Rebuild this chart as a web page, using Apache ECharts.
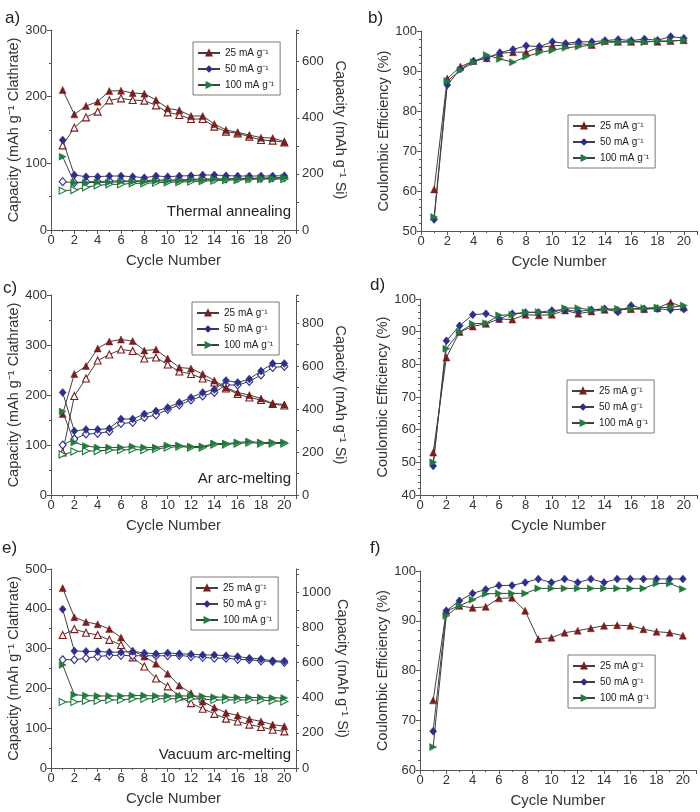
<!DOCTYPE html>
<html><head><meta charset="utf-8">
<script src="https://cdn.jsdelivr.net/npm/echarts@6/dist/echarts.min.js"></script>
<style>html,body{margin:0;padding:0;background:#fff}#c{width:700px;height:812px}</style>
</head><body><div id="c"></div><script>
const cycles = [1,2,3,4,5,6,7,8,9,10,11,12,13,14,15,16,17,18,19,20];
const legendNames = ['25 mA g⁻¹','50 mA g⁻¹','100 mA g⁻¹'];
const panelLabels = ['a)','b)','c)','d)','e)','f)'];
const methodLabels = ['Thermal annealing','Ar arc-melting','Vacuum arc-melting'];
const xTitle = 'Cycle Number';
const capTitle = 'Capacity (mAh g⁻¹ Clathrate)';
const siTitle = 'Capacity (mAh g⁻¹ Si)';
const ceTitle = 'Coulombic Efficiency (%)';

// panel a
const aF25 = [210,173.5,186,192.5,208.5,209,205.5,204.5,195,182.5,179.5,171,171,159,150,146.5,142.5,138.5,138,132.5];
const aO25 = [127,153.5,169,177.5,194.5,197.5,195,194,187,176.5,172.5,166.5,166.5,155,147.5,145,140,135,134,131.5];
const aF50 = [135,82.5,80,80,81,81,80,78.5,81,80,81,81.5,82.5,82.5,81.5,81,81,81,81,81.5];
const aO50 = [72.5,71,72.5,72.5,73.5,73.5,73.5,74,75,75,75,76,76.5,76.5,76.5,77.5,77.5,77.5,78.5,78.5];
const aF100 = [110,71,71,71.5,71.5,72.5,72.5,72.5,73.5,73.5,74,75,75,76,76.5,76.5,77.5,77.5,77.5,78.5];
const aO100 = [59,60,64,67,68.5,68.5,70,70,71,71.5,72,72.5,73.5,74,75,75,76,76.5,76.5,76.5];
// panel b
const bCE25 = [60.4,88.1,91.1,92.5,93.2,94.4,94.7,94.7,95.9,96.3,96.5,96.9,96.5,97.5,97.3,97.3,97.5,97.3,97.5,97.7];
const bCE50 = [52.9,86.5,90.5,92.5,93.2,94.6,95.4,96.3,96.1,97.3,96.9,97.3,97.3,97.6,97.9,97.6,98.0,97.7,98.6,98.2];
const bCE100 = [53.5,87.5,90.2,92.2,94.0,93.0,92.2,93.6,94.6,95.2,95.8,96.1,96.5,97.2,97.2,97.3,97.2,97.5,97.5,97.7];
// panel c
const cF25 = [162,242,258,293,307,311,308,289,291,273,255,253,242,229,215,205,200,193,183,181];
const cO25 = [85,198,233,269,281,291,288,273,275,261,247,242,233,225,213,202,195,190,182,179];
const cF50 = [205,128,131,131,133,152,152,162,168,175,185,195,205,211,229,225,232,248,263,263];
const cO50 = [100,112,122,123,127,143,145,155,160,171,180,190,198,205,220,220,227,240,255,257];
const cF100 = [167,105,98,95,95,95,97,95,95,99,99,97,97,103,103,105,107,105,105,105];
const cO100 = [81,87,88,88,90,90,91,90,92,95,97,95,95,101,101,103,105,103,103,103];
// panel d
const dCE25 = [53.0,82.1,89.9,91.6,92.4,93.9,93.7,95.2,95.0,95.2,96.5,95.5,96.2,96.7,96.7,96.9,96.9,97.2,99.0,97.4];
const dCE50 = [48.9,87.2,91.8,95.2,95.5,93.9,95.5,95.9,95.9,96.5,96.7,96.2,96.7,97.0,96.0,98.0,97.0,97.0,96.7,96.9];
const dCE100 = [50.0,84.8,89.9,92.4,92.6,95.0,95.2,95.9,96.0,95.7,97.2,97.2,96.7,96.9,97.0,97.0,97.2,97.4,97.4,98.0];
// panel e
const eF25 = [452,379,367,361,349,328,295,280,262,237,207,188,167,152,139,132,123,117,109,105];
const eO25 = [334,349,340,334,322,309,278,255,225,205,180,163,149,136,124,117,109,103,96,92];
const eF50 = [399,294,293,293,291,291,293,289,287,289,287,286,284,284,282,280,276,274,269,269];
const eO50 = [272,272,276,280,283,283,282,282,282,282,283,280,278,276,276,273,272,269,268,265];
const eF100 = [259,184,182,181,181,181,182,182,181,181,181,181,180,178,178,177,177,177,176,176];
const eO100 = [166,166,169,169,171,171,174,174,174,174,174,174,173,171,171,171,171,170,169,167];
// panel f
const fCE25 = [74,92.0,93.0,92.6,92.8,94.5,94.6,92.0,86.3,86.6,87.6,88.0,88.5,89.0,89.1,89.0,88.3,87.8,87.6,87.0];
const fCE50 = [67.8,92.0,94.0,95.5,96.3,97.1,97.1,97.7,98.4,97.7,98.4,97.7,98.4,97.7,98.4,98.4,98.4,98.4,98.4,98.4];
const fCE100 = [64.6,91.0,93.0,94.2,95.4,95.5,95.5,95.5,96.5,96.5,96.5,96.5,96.5,96.5,96.5,96.5,96.5,97.5,97.5,96.4];

const COLORS = ['#7d1d1d','#2c2f8e','#1f7d3c'];
const LINE = '#404040';
const AX = '#555555';
const FONT = 'Liberation Sans';

const grids = [
  {left:51, top:30, width:245, height:200},
  {left:421, top:31, width:276, height:200},
  {left:51, top:295, width:245, height:200},
  {left:420, top:299, width:278, height:196},
  {left:51, top:569, width:245, height:199},
  {left:420, top:571, width:276, height:199}
];

const xAxes = grids.map((g,i)=>({
  type:'value', gridIndex:i, min:0, max:21, interval:2,
  name:xTitle, nameLocation:'middle', nameGap:23,
  nameTextStyle:{fontSize:15, color:'#333', fontFamily:FONT},
  axisLine:{show:true, lineStyle:{color:AX, width:1}},
  axisTick:{show:true, length:4, lineStyle:{color:AX}},
  minorTick:{show:true, splitNumber:2, length:2, lineStyle:{color:AX}},
  splitLine:{show:false},
  axisLabel:{fontSize:13, color:'#333', fontFamily:FONT, margin:4,
    formatter:v=> v>20 ? '' : String(v)}
}));

function leftAxis(gi, min, max, interval, split, title, gap){
  return {type:'value', gridIndex:gi, position:'left', min, max, interval,
    name:title, nameLocation:'middle', nameGap:gap, nameRotate:90,
    nameTextStyle:{fontSize:14.5, color:'#333', fontFamily:FONT},
    axisLine:{show:true, lineStyle:{color:AX}},
    axisTick:{show:true, length:4, lineStyle:{color:AX}},
    minorTick:{show:true, splitNumber:split, length:2, lineStyle:{color:AX}},
    splitLine:{show:false},
    axisLabel:{fontSize:13, color:'#333', fontFamily:FONT, margin:4}};
}
function rightAxis(gi, max, lastLabel){
  return {type:'value', gridIndex:gi, position:'right', min:0, max, interval:100,
    name:siTitle, nameLocation:'middle', nameGap:36, nameRotate:-90,
    nameTextStyle:{fontSize:14.5, color:'#333', fontFamily:FONT},
    axisLine:{show:true, lineStyle:{color:AX}},
    axisTick:{show:true, length:3, lineStyle:{color:AX}},
    splitLine:{show:false},
    axisLabel:{fontSize:13, color:'#333', fontFamily:FONT, margin:6,
      formatter:v=> (v%200===0 && v<=lastLabel) ? String(v) : ''}};
}

const yAxes = [
  leftAxis(0,0,300,100,2,capTitle,28),   // 0
  rightAxis(0,713,600),                  // 1
  leftAxis(1,50,100,10,5,ceTitle,30),    // 2
  leftAxis(2,0,400,100,2,capTitle,28),   // 3
  rightAxis(2,930,800),                  // 4
  leftAxis(3,40,100,10,5,ceTitle,30),    // 5
  leftAxis(4,0,500,100,2,capTitle,28),   // 6
  rightAxis(4,1132,1000),                // 7
  leftAxis(5,60,100,10,5,ceTitle,30)     // 8
];

const symbols = ['triangle','diamond','triangle'];
const rots = [0,0,-90];
const sizes = [[7,7],[7,8],[7,7]];

function ser(name, arr, gi, yi, k, open){
  return {type:'line', name, xAxisIndex:gi, yAxisIndex:yi,
    data: cycles.map((c,i)=>[c, arr[i]]),
    symbol:symbols[k], symbolRotate:rots[k], symbolSize:sizes[k],
    showAllSymbol:true, animation:false,
    lineStyle:{color:LINE, width:1},
    itemStyle: open ? {color:'#fff', borderColor:COLORS[k], borderWidth:1.1}
                    : {color:COLORS[k], borderColor:COLORS[k], borderWidth:0.5},
    z: open ? 2 : 3};
}

const series = [];
const capSets = [
  [0,0,[aF25,aF50,aF100],[aO25,aO50,aO100]],
  [2,3,[cF25,cF50,cF100],[cO25,cO50,cO100]],
  [4,6,[eF25,eF50,eF100],[eO25,eO50,eO100]]
];
capSets.forEach(([gi,yi,F,O])=>{
  for(let k=0;k<3;k++){
    series.push(ser('open'+gi+'_'+k, O[k], gi, yi, k, true));
    series.push(ser(legendNames[k], F[k], gi, yi, k, false));
  }
});
const ceSets = [
  [1,2,[bCE25,bCE50,bCE100]],
  [3,5,[dCE25,dCE50,dCE100]],
  [5,8,[fCE25,fCE50,fCE100]]
];
ceSets.forEach(([gi,yi,S])=>{
  for(let k=0;k<3;k++) series.push(ser(legendNames[k], S[k], gi, yi, k, false));
});

const legendPos = [[193,42],[568,115],[192,302],[567,380],[191,577],[568,655]];
const legends = legendPos.map(([l,t])=>({
  left:l, top:t, orient:'vertical', data:legendNames, selectedMode:false,
  backgroundColor:'#fff', borderColor:'#7a7a7a', borderWidth:1, borderRadius:0,
  padding:[5,6,4,4], itemGap:4, itemWidth:22, itemHeight:6,
  textStyle:{fontSize:10, color:'#222', fontFamily:FONT, lineHeight:12}
}));

const labelPos = [[5,10],[368,10],[3,280],[370,277],[2,540],[370,540]];
const graphics = labelPos.map(([x,y],i)=>({type:'text', left:x, top:y,
  style:{text:panelLabels[i], fontSize:17, fill:'#222', fontFamily:FONT}}));
const methodPos = [[291,204],[291,471],[291,747]];
methodPos.forEach(([x,y],i)=>graphics.push({type:'text', x, y,
  style:{text:methodLabels[i], fontSize:15, fill:'#222', fontFamily:FONT, align:'right', verticalAlign:'top'}}));

const chart = echarts.init(document.getElementById('c'), null, {renderer:'canvas'});
chart.setOption({
  backgroundColor:'#fff', animation:false,
  grid:grids, xAxis:xAxes, yAxis:yAxes, series, legend:legends, graphic:graphics
});
</script></body></html>
